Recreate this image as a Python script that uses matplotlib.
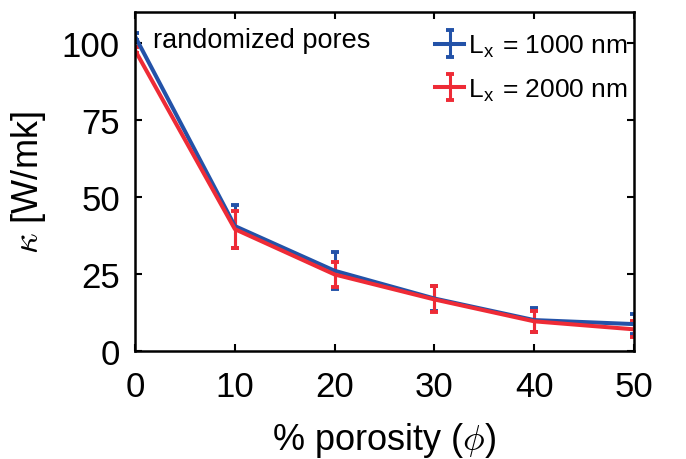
import matplotlib
matplotlib.use("Agg")
import matplotlib.pyplot as plt

porosity = [0, 10, 20, 30, 40, 50]
kappa_1000 = [102, 40.5, 26.0, 17.0, 10.0, 8.7]
err_1000 = [1.0, 7.0, 6.0, 4.0, 3.8, 3.3]
kappa_2000 = [97.5, 39.5, 24.8, 16.7, 9.6, 7.0]
err_2000 = [1.0, 6.0, 4.2, 4.2, 3.4, 2.6]
xticks = [0, 10, 20, 30, 40, 50]
yticks = [0, 25, 50, 75, 100]

plt.rcParams['font.family'] = ['Liberation Sans', 'DejaVu Sans']
plt.rcParams['mathtext.fontset'] = 'cm'

fig = plt.figure(figsize=(6.86, 4.6), dpi=100)
ax = fig.add_axes([0.197, 0.235, 0.727, 0.737])

blue = '#2352a8'
red = '#ee2b36'
ax.errorbar(porosity, kappa_1000, yerr=err_1000, color=blue, lw=2.9,
            elinewidth=2.2, capsize=3, capthick=2.8,
            label=r'L$_\mathregular{x}$ = 1000 nm')
ax.errorbar(porosity, kappa_2000, yerr=err_2000, color=red, lw=2.9,
            elinewidth=2.2, capsize=3, capthick=2.8,
            label=r'L$_\mathregular{x}$ = 2000 nm')

ax.set_xlim(0, 50)
ax.set_ylim(0, 110)
ax.set_xticks(xticks)
ax.set_yticks(yticks)
ax.tick_params(direction='in', top=True, right=True, length=5, width=1.5,
               labelsize=25)
ax.tick_params(axis='x', pad=14)
ax.tick_params(axis='y', pad=11)
for s in ax.spines.values():
    s.set_linewidth(1.8)

ax.set_xlabel(r'% porosity ($\phi$)', fontsize=26, labelpad=12)
ax.set_ylabel(r'$\kappa$ [W/mk]', fontsize=26, labelpad=10)

ax.text(0.036, 0.955, 'randomized pores', transform=ax.transAxes,
        fontsize=19.5, va='top', ha='left')

leg = ax.legend(loc='upper right', bbox_to_anchor=(1.02, 0.985),
                frameon=False, fontsize=19,
                handlelength=1.1, handletextpad=0.15, borderaxespad=0.1,
                borderpad=0.5, labelspacing=0.65)

fig.savefig('out.png', dpi=100)
